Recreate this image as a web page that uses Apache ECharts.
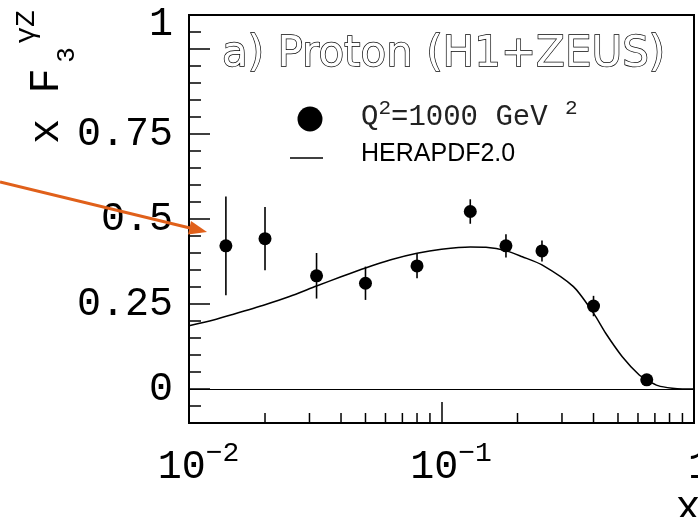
<!DOCTYPE html>
<html>
<head>
<meta charset="utf-8">
<script src="https://cdn.jsdelivr.net/npm/echarts@6/dist/echarts.min.js"></script>
<style>
html,body{margin:0;padding:0;background:#fff;}
#chart{width:698px;height:517px;}
</style>
</head>
<body>
<div id="chart"></div>
<script>
// ---- data ----
const xPoints = [0.014, 0.02, 0.032, 0.05, 0.08, 0.13, 0.18, 0.25, 0.40, 0.65];
const yPoints = [0.421, 0.442, 0.333, 0.311, 0.362, 0.522, 0.421, 0.406, 0.244, 0.027];
const yErrors = [0.145, 0.093, 0.067, 0.049, 0.036, 0.036, 0.034, 0.031, 0.030, 0.010];

const curveX = [0.01, 0.0125, 0.015, 0.02, 0.025, 0.032, 0.04, 0.05, 0.063, 0.08, 0.1, 0.13, 0.15, 0.18, 0.209, 0.25, 0.333, 0.40, 0.447, 0.52, 0.607, 0.65, 0.72, 0.82, 0.9, 1.0];
const curveY = [0.186, 0.203, 0.220, 0.248, 0.272, 0.303, 0.330, 0.356, 0.380, 0.399, 0.411, 0.418, 0.417, 0.407, 0.389, 0.365, 0.301, 0.223, 0.164, 0.095, 0.041, 0.027, 0.010, 0.002, 0.0, 0.0];

const xTickValues = [0.01, 0.1, 1];
const xTickBase = ['10', '10', '1'];
const xTickExp = ['−2', '−1', ''];
const xMinorTicks = [0.02, 0.03, 0.04, 0.05, 0.06, 0.07, 0.08, 0.09, 0.2, 0.3, 0.4, 0.5, 0.6, 0.7, 0.8, 0.9];

const yTickValues = [0, 0.25, 0.5, 0.75, 1];
const yTickLabels = ['0', '0.25', '0.5', '0.75', '1'];

const legendTitle = 'a) Proton (H1+ZEUS)';
const legendCurve = 'HERAPDF2.0';

// ---- chart ----
const MONO = '"Liberation Mono", "DejaVu Sans Mono", monospace';
const Y_MIN = -0.1, Y_MAX = 1.1;
const chart = echarts.init(document.getElementById('chart'), null, {renderer: 'canvas'});

const curveData = curveX.map((x, i) => [x, curveY[i]]);
const pointData = xPoints.map((x, i) => [x, yPoints[i]]);
const errData = xPoints.map((x, i) => [x, yPoints[i] - yErrors[i], yPoints[i] + yErrors[i]]);
const minorTickData = xMinorTicks.map(v => [v, Y_MIN]);

function xLabel(v) {
  let idx = -1;
  for (let i = 0; i < xTickValues.length; i++) {
    if (Math.abs(Math.log10(v) - Math.log10(xTickValues[i])) < 1e-6) idx = i;
  }
  if (idx < 0) return '';
  if (!xTickExp[idx]) return '{one|' + xTickBase[idx] + '}';
  return '{b|' + xTickBase[idx] + '}{s|' + xTickExp[idx] + '}';
}
function yLabel(v) {
  let idx = -1;
  for (let i = 0; i < yTickValues.length; i++) {
    if (Math.abs(v - yTickValues[i]) < 1e-6) idx = i;
  }
  if (idx < 0) return '';
  if (idx === yTickValues.length - 1) return '{up|' + yTickLabels[idx] + '}';
  return yTickLabels[idx];
}

const option = {
  animation: false,
  backgroundColor: '#fff',
  grid: {left: 189, right: 4, top: 15, bottom: 94, containLabel: false, outerBoundsMode: 'none',
         show: true, borderColor: '#000', borderWidth: 2, backgroundColor: 'transparent'},
  xAxis: [
    {
      type: 'log', logBase: 10, min: 0.01, max: 1, position: 'bottom',
      axisLine: {show: true, onZero: false, lineStyle: {color: '#000', width: 2}},
      axisTick: {show: true, inside: true, length: 21, lineStyle: {color: '#000', width: 1.5}},
      axisLabel: {
        show: true, margin: 17, formatter: xLabel, color: '#000', hideOverlap: false,
        rich: {
          b: {fontFamily: MONO, fontSize: 40, lineHeight: 40, padding: [14, 0, 0, 19], color: '#000'},
          one: {fontFamily: MONO, fontSize: 40, lineHeight: 40, padding: [14, 0, 0, 12], color: '#000'},
          s: {fontFamily: MONO, fontSize: 28, lineHeight: 28, verticalAlign: 'top', color: '#000'}
        }
      },
      splitLine: {show: false}
    }
  ],
  yAxis: [
    {
      type: 'value', min: Y_MIN, max: Y_MAX, position: 'left',
      axisLine: {show: true, onZero: false, lineStyle: {color: '#000', width: 2}},
      axisTick: {show: true, inside: true, length: 21, lineStyle: {color: '#000', width: 1.5}, customValues: yTickValues},
      axisLabel: {
        show: true, margin: 16, customValues: yTickValues, formatter: yLabel,
        fontFamily: MONO, fontSize: 40, color: '#000',
        rich: {up: {fontFamily: MONO, fontSize: 40, color: '#000', padding: [0, 0, 50, 0]}}
      },
      splitLine: {show: false}
    },
    {
      type: 'value', min: Y_MIN, max: Y_MAX, interval: 0.05, position: 'left',
      axisLine: {show: false, onZero: false},
      axisTick: {show: true, inside: true, length: 12, lineStyle: {color: '#000', width: 1.5}},
      axisLabel: {show: false},
      splitLine: {show: false}
    }
  ],
  series: [
    {
      type: 'line', name: legendCurve, data: curveData, smooth: 0.25, showSymbol: false,
      lineStyle: {color: '#000', width: 1.5}, itemStyle: {color: '#000'},
      markLine: {
        silent: true, symbol: 'none', label: {show: false},
        lineStyle: {color: '#000', width: 1.2, type: 'solid'},
        data: [{yAxis: 0}]
      },
      z: 3
    },
    {
      // minor ticks of the log x axis (2..9 per decade), placed via the axis scale
      type: 'custom', name: 'minorTicks', data: minorTickData, encode: {x: 0, y: 1}, silent: true,
      renderItem: function (params, api) {
        const p = api.coord([api.value(0), api.value(1)]);
        return {type: 'line', shape: {x1: p[0], y1: p[1], x2: p[0], y2: p[1] - 10}, style: {stroke: '#000', lineWidth: 1.5}};
      },
      z: 2
    },
    {
      type: 'custom', name: 'err', data: errData, encode: {x: 0, y: [1, 2]},
      renderItem: function (params, api) {
        const x = api.value(0);
        const p1 = api.coord([x, api.value(1)]);
        const p2 = api.coord([x, api.value(2)]);
        return {type: 'line', shape: {x1: p1[0], y1: p1[1], x2: p2[0], y2: p2[1]}, style: {stroke: '#000', lineWidth: 1.6}};
      },
      z: 4
    },
    {
      type: 'scatter', name: 'data', data: pointData, symbol: 'circle', symbolSize: 13,
      itemStyle: {color: '#000', opacity: 1}, z: 5
    }
  ],
  graphic: [
    // legend title
    {type: 'text', x: 222, y: 55, style: {text: legendTitle, fontFamily: '"DejaVu Sans", sans-serif', fontSize: 42, fill: '#fff', stroke: '#000', lineWidth: 1.4, verticalAlign: 'middle', align: 'left'}, z: 10},
    // legend marker + text
    {type: 'circle', shape: {cx: 310, cy: 119, r: 12.5}, style: {fill: '#000'}, z: 10},
    {type: 'text', x: 361, y: 98, style: {
      text: '{m|Q}{s|2}{m|=1000 GeV }{s|2}', verticalAlign: 'top', align: 'left',
      rich: {
        m: {fontFamily: MONO, fontSize: 29, lineHeight: 30, padding: [8, 0, 0, 0], fill: '#222'},
        s: {fontFamily: MONO, fontSize: 21, lineHeight: 22, verticalAlign: 'top', fill: '#222'}
      }
    }, z: 10},
    {type: 'line', shape: {x1: 290, y1: 158, x2: 323, y2: 158}, style: {stroke: '#000', lineWidth: 1.5}, z: 10},
    {type: 'text', x: 361, y: 154, style: {text: legendCurve, fontFamily: '"Liberation Sans", Arial, sans-serif', fontSize: 25, fill: '#000', verticalAlign: 'middle', align: 'left'}, z: 10},
    // y axis title (rotated)
    {type: 'text', x: 47, y: 144, rotation: Math.PI / 2, style: {text: 'x F', fontFamily: MONO, fontSize: 42, fill: '#000', align: 'left', verticalAlign: 'middle'}, z: 10},
    {type: 'text', x: 67, y: 55, rotation: Math.PI / 2, style: {text: '3', fontFamily: MONO, fontSize: 26, fill: '#000', align: 'center', verticalAlign: 'middle'}, z: 10},
    {type: 'text', x: 27, y: 27, rotation: Math.PI / 2, style: {text: 'γZ', fontFamily: MONO, fontSize: 28, fill: '#000', align: 'center', verticalAlign: 'middle'}, z: 10},
    // x axis title
    {type: 'text', x: 688, y: 509, style: {text: 'x', fontFamily: MONO, fontSize: 42, fill: '#000', align: 'center', verticalAlign: 'middle'}, z: 10},
    // orange arrow
    {type: 'line', shape: {x1: 0, y1: 182, x2: 192, y2: 228.5}, style: {stroke: '#e0601a', lineWidth: 3}, z: 20},
    {type: 'polygon', shape: {points: [[207, 232], [191, 221], [188, 234.5]]}, style: {fill: '#e0601a'}, z: 20}
  ]
};
chart.setOption(option);
</script>
</body>
</html>
